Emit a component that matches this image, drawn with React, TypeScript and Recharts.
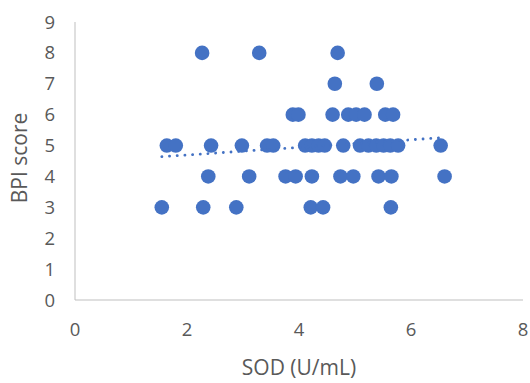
import { Scatter, ScatterChart, XAxis, YAxis } from "recharts";

// SOD (U/mL) and BPI score, one entry per subject
const sodValues = [
  2.27, 3.29, 4.69,
  4.64, 5.39,
  3.89, 3.99, 4.6, 4.88, 5.02, 5.17, 5.54, 5.68,
  1.64, 1.8, 2.43, 2.98, 3.43, 3.54, 4.11, 4.23, 4.35, 4.46, 4.79, 5.09, 5.24, 5.38, 5.51, 5.63, 5.77, 6.53,
  2.38, 3.11, 3.76, 3.94, 4.23, 4.74, 4.97, 5.42, 5.65, 6.6,
  1.55, 2.29, 2.88, 4.21, 4.43, 5.64,
];
const bpiValues = [
  8, 8, 8,
  7, 7,
  6, 6, 6, 6, 6, 6, 6, 6,
  5, 5, 5, 5, 5, 5, 5, 5, 5, 5, 5, 5, 5, 5, 5, 5, 5, 5,
  4, 4, 4, 4, 4, 4, 4, 4, 4, 4,
  3, 3, 3, 3, 3, 3,
];

// linear trendline ends
const trendX = [1.55, 6.6];
const trendY = [4.64, 5.26];

const xTicks = [0, 2, 4, 6, 8];
const yTicks = [0, 1, 2, 3, 4, 5, 6, 7, 8, 9];

const points = sodValues.map((x, i) => ({ x, y: bpiValues[i] }));
const trend = trendX.map((x, i) => ({ x, y: trendY[i] }));

const BLUE = "#4472C4";
const TEXT = "#595959";
const FONT = "'Open Sans', sans-serif";

function Dot(props: any) {
  const { cx, cy } = props;
  if (cx == null || cy == null) return null;
  return <circle cx={cx} cy={cy} r={7.3} fill={BLUE} />;
}

export default function App() {
  return (
    <div style={{ position: "absolute", left: 0, top: 0, background: "#fff" }}>
      <ScatterChart
        width={530}
        height={383}
        margin={{ top: 22, right: 7, bottom: 0, left: 15 }}
        style={{ fontFamily: FONT }}
      >
        <XAxis
          type="number"
          dataKey="x"
          domain={[0, 8]}
          ticks={xTicks}
          tickLine={false}
          tickSize={0}
          tickMargin={23}
          height={83}
          axisLine={{ stroke: "#bfbfbf", strokeWidth: 1 }}
          tick={{ fill: TEXT, fontSize: 18.5 }}
          label={{
            value: "SOD (U/mL)",
            position: "insideBottom",
            offset: 8,
            fill: TEXT,
            fontSize: 21,
          }}
        />
        <YAxis
          type="number"
          dataKey="y"
          domain={[0, 9]}
          ticks={yTicks}
          interval={0}
          tickLine={false}
          tickSize={0}
          tickMargin={20}
          width={60}
          axisLine={{ stroke: "#bfbfbf", strokeWidth: 1 }}
          tick={{ fill: TEXT, fontSize: 18.5 }}
          label={{
            value: "BPI score",
            angle: -90,
            position: "center",
            dx: -25,
            dy: -3,
            fill: TEXT,
            fontSize: 21,
          }}
        />
        <Scatter data={points} shape={<Dot />} isAnimationActive={false} />
        <Scatter
          data={trend}
          line={{
            stroke: BLUE,
            strokeWidth: 2.8,
            strokeDasharray: "0.1 7.6",
            strokeLinecap: "round",
          }}
          lineType="joint"
          shape={() => null}
          isAnimationActive={false}
        />
      </ScatterChart>
    </div>
  );
}
